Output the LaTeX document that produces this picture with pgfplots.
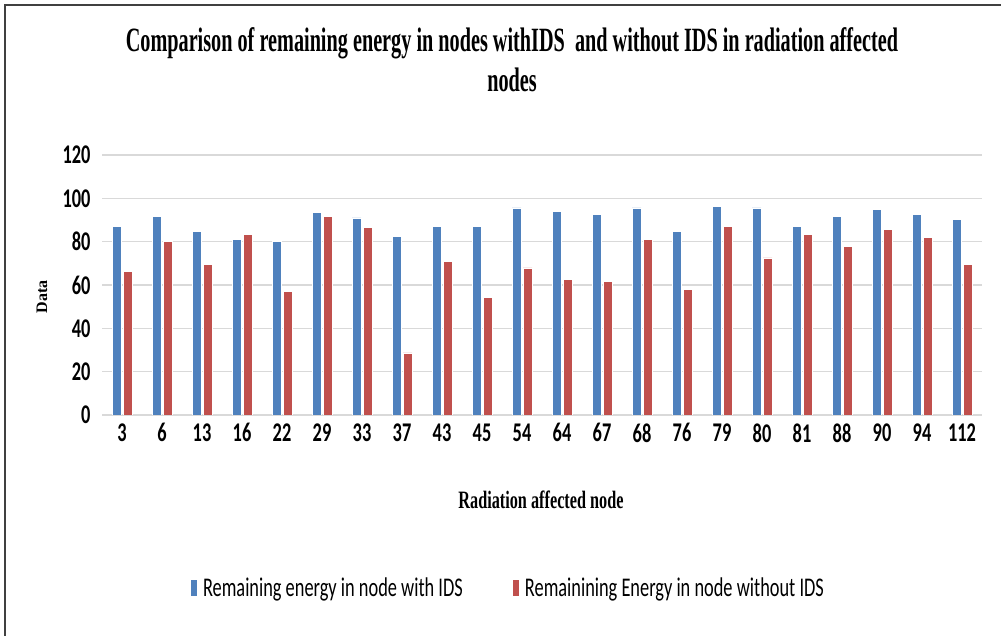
\documentclass[border=0pt]{standalone}
\usepackage{fontspec}
\usepackage{pgfplots}
\pgfplotsset{compat=1.18}
\setmainfont{Liberation Serif}
\newfontfamily\calfont[FakeStretch=0.68]{Carlito}
\newfontfamily\titlefont[FakeStretch=0.595]{Liberation Serif}
\newfontfamily\xlabfont[FakeStretch=0.65]{Liberation Serif}
\definecolor{barblue}{HTML}{4F81BD}
\definecolor{barred}{HTML}{C0504D}
\definecolor{gridgray}{HTML}{D9D9D9}
\begin{document}
\begin{tikzpicture}[x=1pt,y=1pt]
\path[use as bounding box] (0,0) rectangle (1001,636);
\draw[line width=2.5pt, color=black!75] (5,0) -- (5,631) -- (1001,631);
\node[anchor=base, font=\titlefont\bfseries\fontsize{34}{40}\selectfont] at (512,584) {Comparison of remaining energy in nodes withIDS\ \ and without IDS in radiation affected};
\node[anchor=base, font=\titlefont\bfseries\fontsize{34}{40}\selectfont] at (512,544) {nodes};
\node[anchor=base, font=\xlabfont\bfseries\fontsize{25}{30}\selectfont] at (541,127) {Radiation affected node};
\node[rotate=90, font=\bfseries\fontsize{16}{20}\selectfont] at (42,339) {Data};
\begin{axis}[
  at={(102pt,221pt)}, anchor=south west, scale only axis,
  width=880pt, height=260pt,
  xmin=-0.5, xmax=21.5, ymin=0, ymax=120,
  ytick={0,20,...,120},
  xtick={0,...,21},
  xticklabels={3,6,13,16,22,29,33,37,43,45,54,64,67,68,76,79,80,81,88,90,94,112},
  axis line style={draw=none},
  major tick length=0pt,
  ymajorgrids, grid style={color=gridgray, line width=1.5pt},
  ybar=2pt, bar width=9pt,
  tick label style={font=\calfont\bfseries\fontsize{27}{27}\selectfont},
  /pgf/number format/assume math mode=true,
  yticklabel style={anchor=east, xshift=-8pt},
  xticklabel style={anchor=north, yshift=-5pt},
  legend style={at={(0.463,-0.665)}, anchor=center, draw=none,
    font=\calfont\fontsize{27}{27}\selectfont,
    nodes={inner xsep=5pt},
    /tikz/every even column/.append style={column sep=44pt}},
  legend columns=2,
  legend image code/.code={\fill[#1] (0pt,-8.5pt) rectangle (7.5pt,8.5pt);},
]
\addplot[fill=barblue, draw=white, line width=0.6pt] coordinates {
(0,87.2) (1,91.8) (2,84.8) (3,81.0) (4,80.2) (5,93.5) (6,91.0) (7,82.5) (8,87.2) (9,87.2) (10,95.6)
(11,94.1) (12,92.6) (13,95.6) (14,84.8) (15,96.4) (16,95.6) (17,87.2) (18,91.8) (19,94.9) (20,92.6) (21,90.2)};
\addlegendentry{Remaining energy in node with IDS}
\addplot[fill=barred, draw=white, line width=0.6pt] coordinates {
(0,66.3) (1,80.2) (2,69.4) (3,83.3) (4,57.1) (5,91.8) (6,86.4) (7,28.7) (8,71.0) (9,54.1) (10,67.9)
(11,62.5) (12,61.7) (13,81.0) (14,57.8) (15,87.2) (16,72.5) (17,83.3) (18,77.9) (19,85.6) (20,81.8) (21,69.4)};
\addlegendentry{Remainining Energy in node without IDS}
\end{axis}
\end{tikzpicture}
\end{document}
